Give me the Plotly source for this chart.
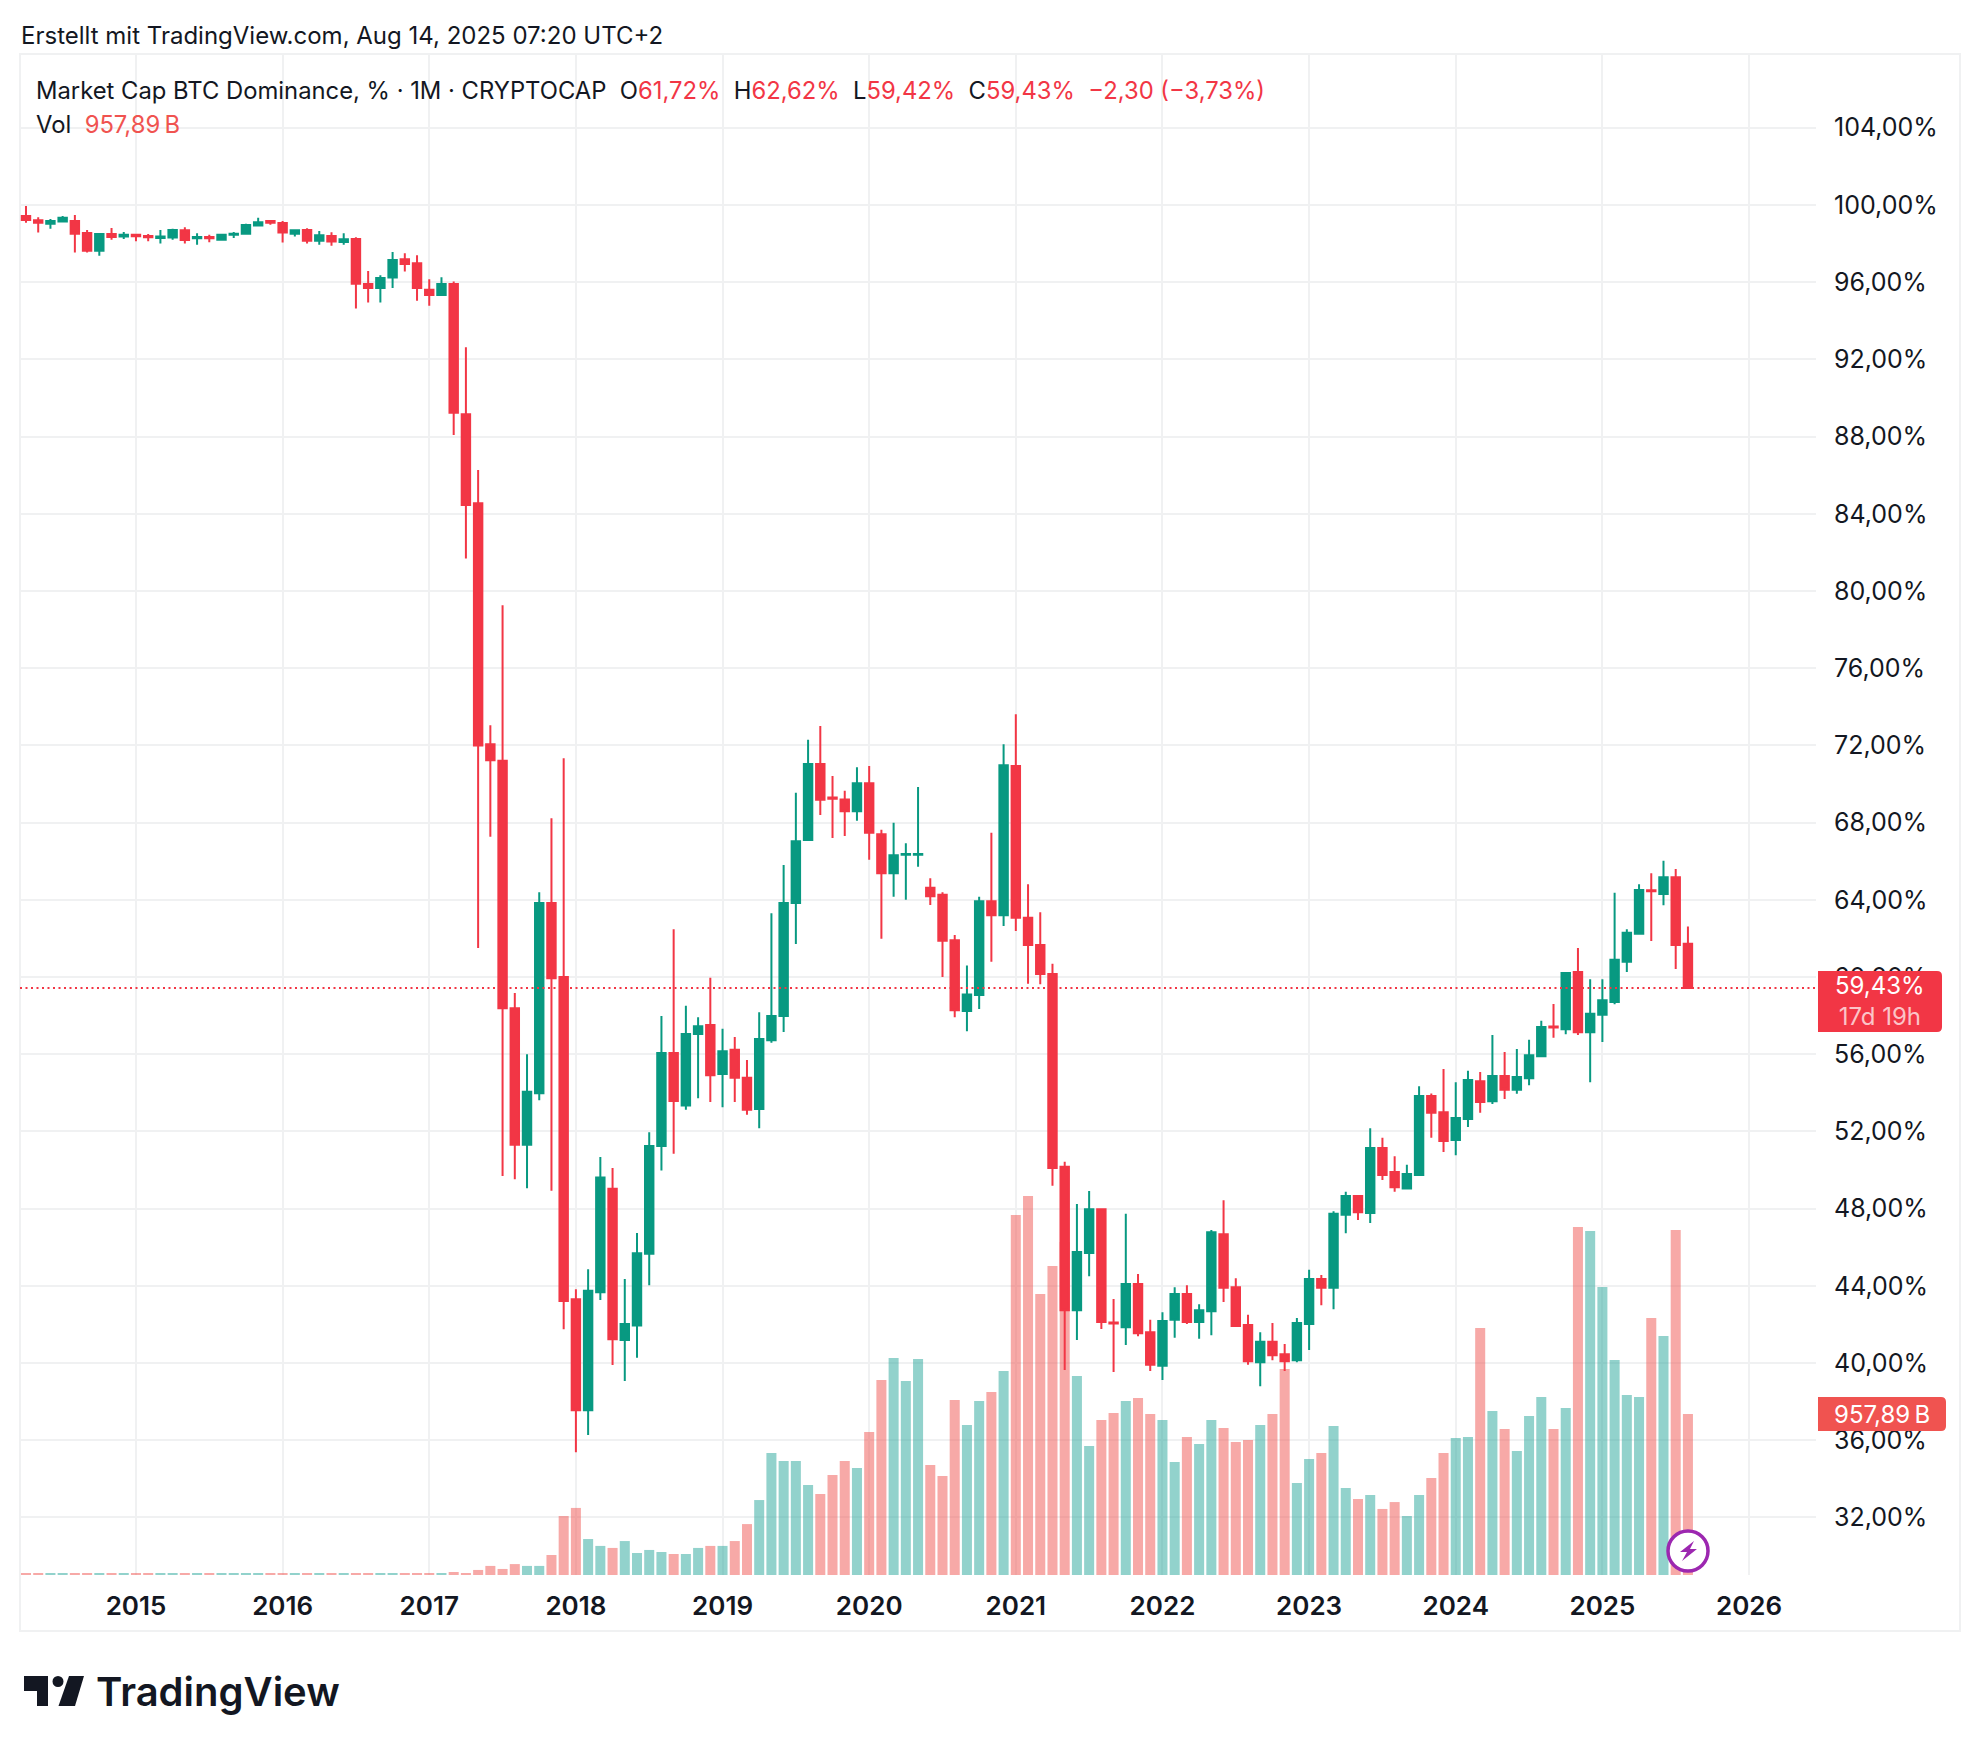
import pandas as pd
import plotly.graph_objects as go

months = pd.date_range("2014-04-01", periods=137, freq="MS")

opens = [
    99.43, 99.21, 99.03, 99.14, 99.17, 98.55, 97.63, 98.50, 98.36, 98.46,
    98.39, 98.29, 98.31, 98.69, 98.27, 98.34, 98.20, 98.45, 98.51, 98.93,
    99.17, 99.07, 98.51, 98.70, 98.15, 98.39, 98.08, 98.24, 95.91, 95.70,
    96.24, 97.18, 96.98, 95.60, 95.34, 95.91, 89.15, 84.55, 72.06, 71.20,
    58.38, 51.31, 53.98, 63.83, 60.00, 43.31, 37.56, 43.67, 49.03, 41.20,
    41.95, 45.66, 51.24, 56.06, 53.35, 57.05, 57.52, 54.97, 56.23, 54.78,
    53.16, 56.72, 57.98, 63.83, 67.10, 71.03, 69.30, 69.20, 68.59, 70.04,
    67.40, 65.38, 66.33, 66.33, 64.62, 64.26, 61.91, 58.24, 59.07, 63.93,
    63.20, 70.93, 63.07, 61.66, 60.16, 50.17, 42.74, 45.70, 47.97, 42.10,
    41.86, 44.09, 41.60, 39.86, 42.24, 43.58, 42.13, 42.69, 46.68, 43.93,
    41.97, 40.04, 41.10, 40.46, 40.14, 42.02, 44.35, 43.90, 47.68, 48.66,
    47.78, 51.14, 49.90, 49.05, 49.74, 53.84, 53.00, 51.56, 52.65, 54.60,
    53.57, 54.87, 54.16, 54.76, 55.90, 57.44, 57.30, 60.26, 57.14, 58.04,
    58.70, 60.79, 62.24, 64.50, 64.30, 65.17, 61.72,
]
highs = [
    99.95, 99.36, 99.27, 99.43, 99.48, 98.70, 98.53, 98.81, 98.60, 98.50,
    98.50, 98.70, 98.77, 98.84, 98.53, 98.45, 98.50, 98.60, 99.02, 99.33,
    99.17, 99.17, 98.74, 98.79, 98.65, 98.58, 98.53, 98.32, 96.58, 96.36,
    97.56, 97.50, 97.39, 96.15, 96.25, 96.03, 92.63, 86.27, 73.05, 79.26,
    59.17, 56.00, 64.39, 68.22, 71.33, 43.83, 44.86, 50.67, 50.11, 44.36,
    46.74, 51.96, 57.98, 62.47, 58.51, 57.91, 59.96, 57.32, 56.89, 55.70,
    58.18, 63.30, 65.81, 69.55, 72.29, 73.00, 70.41, 69.65, 70.87, 70.93,
    67.63, 67.99, 66.93, 69.84, 65.12, 64.39, 62.18, 60.60, 64.16, 67.47,
    72.06, 73.61, 64.81, 63.36, 60.69, 50.43, 48.24, 48.92, 47.97, 43.32,
    47.73, 44.62, 42.24, 42.63, 43.93, 44.03, 43.05, 46.89, 48.44, 44.40,
    42.50, 41.60, 42.08, 40.99, 42.34, 44.83, 44.56, 47.86, 48.87, 48.66,
    52.17, 51.67, 50.72, 50.27, 54.34, 53.97, 55.24, 54.55, 55.14, 55.08,
    56.99, 56.11, 56.27, 56.75, 57.73, 58.60, 60.21, 61.50, 59.89, 59.89,
    64.36, 62.48, 64.80, 65.38, 66.02, 65.60, 62.62,
]
lows = [
    99.08, 98.57, 98.77, 99.12, 97.53, 97.53, 97.37, 98.20, 98.24, 98.12,
    98.12, 98.00, 98.20, 98.00, 97.94, 98.07, 98.18, 98.29, 98.50, 98.88,
    98.98, 98.05, 98.36, 98.00, 97.94, 97.89, 97.94, 94.63, 94.94, 94.94,
    95.70, 96.55, 95.03, 94.78, 95.30, 88.08, 81.68, 61.50, 67.27, 49.69,
    49.52, 49.06, 53.62, 48.93, 41.75, 35.38, 36.27, 43.27, 39.90, 39.07,
    40.27, 44.03, 49.98, 50.84, 53.12, 53.72, 53.52, 53.25, 53.52, 52.86,
    52.16, 56.59, 57.15, 61.71, 67.10, 68.39, 67.20, 67.30, 68.09, 66.07,
    61.98, 64.16, 64.00, 65.71, 63.73, 60.00, 57.92, 57.19, 58.34, 60.79,
    62.64, 62.38, 59.65, 59.63, 49.19, 39.64, 41.20, 44.50, 41.76, 39.54,
    40.94, 41.39, 39.59, 39.12, 41.31, 42.02, 41.26, 41.44, 43.16, 41.92,
    39.91, 38.80, 40.14, 39.59, 40.04, 40.68, 43.00, 42.79, 46.73, 47.41,
    47.26, 49.48, 48.87, 49.00, 49.74, 51.67, 50.93, 50.77, 52.23, 52.97,
    53.42, 53.68, 53.95, 54.39, 55.90, 56.85, 57.04, 56.99, 54.55, 56.64,
    58.59, 60.26, 62.24, 61.87, 63.72, 60.42, 59.42,
]
closes = [
    99.22, 99.08, 99.17, 99.33, 98.51, 97.63, 98.50, 98.34, 98.45, 98.38,
    98.32, 98.36, 98.70, 98.19, 98.34, 98.27, 98.45, 98.51, 98.96, 99.10,
    99.08, 98.57, 98.69, 98.15, 98.43, 98.10, 98.22, 95.92, 95.70, 96.22,
    97.15, 96.94, 95.70, 95.34, 95.91, 89.24, 84.45, 71.99, 71.23, 58.38,
    51.31, 54.05, 63.83, 59.93, 43.21, 37.56, 43.74, 49.62, 41.23, 42.02,
    45.69, 51.24, 56.06, 53.58, 57.05, 57.45, 54.91, 56.16, 54.78, 53.12,
    56.79, 57.98, 63.83, 67.03, 71.03, 69.18, 69.24, 68.59, 70.04, 67.47,
    65.38, 66.31, 66.38, 66.38, 64.19, 61.88, 58.28, 59.10, 63.93, 63.20,
    70.97, 63.07, 61.66, 60.16, 50.11, 42.74, 45.75, 47.97, 42.13, 42.05,
    44.09, 41.55, 39.91, 42.18, 43.58, 42.13, 42.74, 46.78, 43.90, 41.92,
    40.09, 41.10, 40.41, 40.09, 42.08, 44.35, 43.90, 47.73, 48.66, 47.81,
    51.14, 49.74, 49.11, 49.79, 53.84, 52.97, 51.51, 52.70, 54.66, 53.52,
    54.87, 54.16, 54.82, 55.95, 57.41, 57.38, 60.21, 57.14, 58.10, 58.80,
    60.89, 62.29, 64.51, 64.44, 65.17, 61.66, 59.43,
]
# volume in billions, the early years are barely above the floor
volumes = [12] * 35 + [
    18, 12, 30, 54, 36, 65, 54, 54, 119, 351,
    399, 214, 173, 161, 202, 131, 149, 137, 125, 125,
    161, 173, 173, 202, 303, 446, 726, 678, 678, 536,
    482, 595, 678, 637, 851, 1160, 1291, 1154, 1285, 655,
    589, 1041, 893, 1035, 1089, 1214, 2142, 2255, 1672, 1839,
    1981, 1184, 768, 922, 964, 1035, 1053, 958, 922, 672,
    821, 779, 922, 875, 791, 803, 893, 958, 1226, 547,
    690, 726, 887, 518, 452, 476, 393, 434, 351, 476,
    577, 726, 815, 821, 1470, 976, 869, 738, 946, 1059,
    869, 994, 2071, 2047, 1714, 1279, 1071, 1059, 1529, 1422,
    2053, 957.89,
]
price_ticks = list(range(32, 105, 4))
year_ticks = list(range(2015, 2027))
change_text = "−2,30 (−3,73%)"
countdown_text = "17d 19h"

GREEN = "#089981"
RED = "#F23645"
VOL_GREEN = "rgba(38,166,154,0.5)"
VOL_RED = "rgba(239,83,80,0.5)"
VOL_TAG = "#F05350"
GRID = "#F0F1F2"
TEXT = "#131722"
FONT = "Inter"

# chart pane in page pixels
W, H = 1980, 1752
LEFT, RIGHT, TOP, BOTTOM = 20, 1816, 54, 1575


def px(x):
    return (x - LEFT) / (RIGHT - LEFT)


def py(y):
    return (BOTTOM - y) / (BOTTOM - TOP)


def poly(points):
    return "M" + " L".join(f"{px(x):.5f},{py(y):.5f}" for x, y in points) + " Z"


def tag_path(x0, x1, y0, y1, r=5):
    # square on the left, rounded on the scale side
    return (f"M{px(x0):.5f},{py(y0):.5f} L{px(x1 - r):.5f},{py(y0):.5f} "
            f"Q{px(x1):.5f},{py(y0):.5f} {px(x1):.5f},{py(y0 + r):.5f} "
            f"L{px(x1):.5f},{py(y1 - r):.5f} "
            f"Q{px(x1):.5f},{py(y1):.5f} {px(x1 - r):.5f},{py(y1):.5f} "
            f"L{px(x0):.5f},{py(y1):.5f} Z")


def de(v):
    return f"{v:.2f}".replace(".", ",")


bar_x = list(range(len(months)))
vol_colors = [VOL_GREEN if c >= o else VOL_RED for o, c in zip(opens, closes)]

fig = go.Figure()
fig.add_trace(go.Bar(x=bar_x, y=volumes, marker=dict(color=vol_colors, line_width=0),
                     yaxis="y", hoverinfo="skip", showlegend=False))
fig.add_trace(go.Candlestick(
    x=bar_x, open=opens, high=highs, low=lows, close=closes, yaxis="y2",
    increasing=dict(line=dict(color=GREEN, width=2), fillcolor=GREEN),
    decreasing=dict(line=dict(color=RED, width=2), fillcolor=RED),
    showlegend=False,
))

first_year = months[0].year
year_pos = [(y - first_year) * 12 - months[0].month + 1 for y in year_ticks]

fig.update_layout(
    width=W, height=H,
    paper_bgcolor="white", plot_bgcolor="white",
    margin=dict(l=LEFT, r=W - RIGHT, t=TOP, b=H - BOTTOM, pad=0),
    font=dict(family=FONT, color=TEXT, size=24),
    bargap=0.18, boxgap=0.31, boxgroupgap=0,
    showlegend=False,
    xaxis=dict(
        type="linear", range=[-0.49, 146.48], rangeslider=dict(visible=False),
        tickvals=year_pos, ticktext=[str(y) for y in year_ticks],
        showgrid=True, gridcolor=GRID, gridwidth=2, zeroline=False, showline=False,
        ticks="outside", ticklen=8, tickcolor="rgba(0,0,0,0)",
        tickfont=dict(family=FONT, size=26, color=TEXT, weight=600),
    ),
    yaxis=dict(range=[0, 9050], visible=False, fixedrange=True),
    yaxis2=dict(
        overlaying="y", side="right", range=[29.02, 107.82],
        tickvals=price_ticks, ticktext=[de(p) + "%" for p in price_ticks],
        showgrid=True, gridcolor=GRID, gridwidth=2, zeroline=False, showline=False,
        ticks="outside", ticklen=12, tickcolor="rgba(0,0,0,0)",
        tickfont=dict(family=FONT, size=25, color=TEXT),
    ),
)

# last price line
fig.add_shape(type="line", xref="paper", x0=0, x1=1, yref="y2", y0=closes[-1], y1=closes[-1],
              line=dict(color=RED, width=2, dash="2px,3.5px"))
# outer frame
fig.add_shape(type="rect", xref="paper", yref="paper", x0=0, x1=px(1960), y0=py(1631), y1=1,
              line=dict(color=GRID, width=2), layer="below")
# bolt badge
fig.add_shape(type="circle", xref="paper", yref="paper", x0=px(1668), x1=px(1708), y0=py(1571), y1=py(1531),
              fillcolor="white", line=dict(color="#9C27B0", width=3.5))
fig.add_shape(type="path", xref="paper", yref="paper", line_width=0, fillcolor="#9C27B0",
              path=poly([(1694, 1541), (1680, 1552), (1687, 1552), (1682, 1561), (1697, 1549), (1690, 1549)]))
# TradingView logo
logo = "#131722"
fig.add_shape(type="path", xref="paper", yref="paper", line_width=0, fillcolor=logo,
              path=poly([(24, 1676), (48, 1676), (48, 1706), (37, 1706), (37, 1691), (24, 1691)]))
fig.add_shape(type="circle", xref="paper", yref="paper", line_width=0, fillcolor=logo,
              x0=px(52.5), x1=px(63.5), y0=py(1687), y1=py(1676))
fig.add_shape(type="path", xref="paper", yref="paper", line_width=0, fillcolor=logo,
              path=poly([(69, 1676), (84, 1676), (75, 1706), (58.5, 1706)]))
# tags on the price scale, they hide the tick label behind them
fig.add_shape(type="path", xref="paper", yref="paper", line_width=0, fillcolor=RED,
              path=tag_path(1818, 1942, 971, 1032))
fig.add_shape(type="path", xref="paper", yref="paper", line_width=0, fillcolor=VOL_TAG,
              path=tag_path(1818, 1946, 1397, 1431))


def label(x, y, text, **kw):
    fig.add_annotation(xref="paper", yref="paper", x=px(x), y=py(y), text=text, showarrow=False,
                       xanchor=kw.pop("xanchor", "left"), yanchor="middle",
                       align=kw.pop("align", "left"), **kw)


def span(text, color=RED):
    return f'<span style="color:{color}">{text}</span>'


nb = "\u00a0"
header = (
    f"Market Cap BTC Dominance, % · 1M · CRYPTOCAP{nb}{nb}O" + span(de(opens[-1]) + "%")
    + f"{nb}{nb}H" + span(de(highs[-1]) + "%")
    + f"{nb}{nb}L" + span(de(lows[-1]) + "%")
    + f"{nb}{nb}C" + span(de(closes[-1]) + "%")
    + f"{nb}{nb}" + span(change_text)
)
label(19, 36, "Erstellt mit TradingView.com, Aug 14, 2025 07:20 UTC+2", font=dict(size=24, color=TEXT))
label(34, 90, header, font=dict(size=23.8, color=TEXT))
label(34, 124, f"Vol{nb}{nb}" + span(f"{de(volumes[-1])}\u202fB", VOL_TAG), font=dict(size=23.8, color=TEXT))
label(94, 1691, "TradingView", font=dict(size=40, color=logo, weight=600))

label(1880, 1001, de(closes[-1]) + "%<br>" + span(countdown_text, "#FBC4C8"),
      xanchor="center", align="center", font=dict(size=24, color="white"))
label(1882, 1414, f"{de(volumes[-1])}\u202fB",
      xanchor="center", align="center", font=dict(size=24, color="white"))

fig.write_html("out.html", config={"displayModeBar": False},
               post_script="document.body.style.margin='0';")
